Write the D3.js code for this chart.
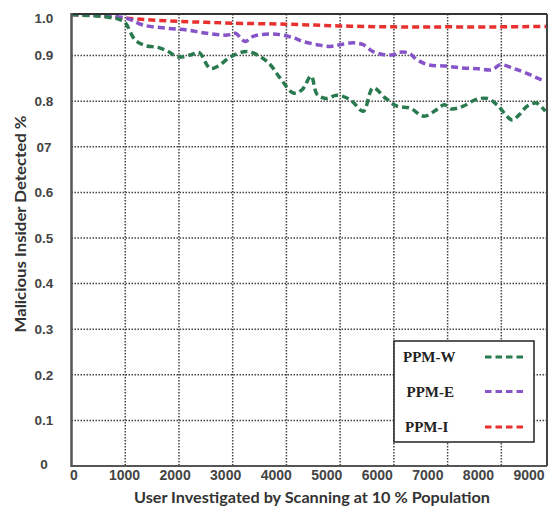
<!DOCTYPE html>
<html><head><meta charset="utf-8">
<script src="https://cdn.jsdelivr.net/npm/d3@7"></script>
<style>body{margin:0;background:#fff}svg{display:block}</style>
</head><body>
<svg id="c" width="549" height="508"></svg>
<script>
// ---- data ----
const seriesNames = ["PPM-W", "PPM-E", "PPM-I"];
const seriesColors = ["#2a7a50", "#8654c8", "#e8312f"];

const wX = [0,530,870,1000,1180,1370,1610,1800,1980,2230,2370,2580,2730,2970,3270,3510,3700,3880,4130,4290,4460,4570,4740,4940,5190,5430,5610,5840,6060,6300,6560,6790,6940,7070,7290,7510,7740,7920,8200,8330,8480,8650,8820];
const wY = [0.99,0.986,0.98,0.972,0.935,0.922,0.918,0.909,0.897,0.902,0.907,0.872,0.877,0.898,0.909,0.898,0.880,0.851,0.818,0.825,0.855,0.815,0.806,0.813,0.803,0.778,0.829,0.807,0.789,0.785,0.767,0.781,0.792,0.783,0.789,0.803,0.806,0.792,0.759,0.770,0.789,0.796,0.778];

const eX = [0,530,1030,1330,1780,2150,2520,2900,3050,3230,3380,3600,3880,4130,4310,4570,4810,5000,5240,5430,5610,5820,5990,6080,6270,6430,6640,6960,7270,7570,7830,7980,8200,8450,8760];
const eY = [0.99,0.988,0.982,0.967,0.960,0.956,0.949,0.945,0.949,0.931,0.942,0.947,0.946,0.939,0.931,0.924,0.920,0.924,0.928,0.924,0.909,0.902,0.902,0.907,0.906,0.891,0.880,0.877,0.873,0.871,0.869,0.880,0.873,0.862,0.846];

const iX = [0,500,1000,1500,2000,2500,3000,4000,5000,6000,7000,8000,8850];
const iY = [0.99,0.988,0.982,0.978,0.975,0.973,0.971,0.969,0.965,0.963,0.963,0.963,0.964];

const yTickVals = [0,0.1,0.2,0.3,0.4,0.5,0.6,0.7,0.8,0.9,1.0];
const yTickText = ["0","0.1","0.2","0.3","0.4","0.5","0.6","07","0.8","0.9","1.0"];
const xGridVals = [1000,2000,3000,4000,5000,6000,7000,8000];
const xTickVals = [0,1000,2000,3000,4000,5000,6000,7000,8000,9000];
const xTitle = "User Investigated by Scanning at 10 % Population";
const yTitle = "Malicious Insider Detected %";

// ---- layout ----
const L = 71.5, R = 547, T = 14, B = 466;
const svg = d3.select("#c");
const x = d3.scaleLinear().domain([0, 8850]).range([L, R]);
const y = d3.scaleLinear().domain([0, 1]).range([B, 10]);
const xLab = d3.scaleLinear().domain([0, 9000]).range([74, 529]);

// grid
const g = svg.append("g").attr("stroke", "#444").attr("stroke-width", 1.5).attr("stroke-dasharray", "1.5,1.5");
g.selectAll("line.h").data(yTickVals.filter(v => v > 0 && v < 1)).join("line")
  .attr("x1", L).attr("x2", R).attr("y1", d => y(d)).attr("y2", d => y(d));
g.selectAll("line.v").data(xGridVals).join("line")
  .attr("x1", d => x(d)).attr("x2", d => x(d)).attr("y1", T).attr("y2", B);

// clip
svg.append("clipPath").attr("id", "clip").append("rect")
  .attr("x", L).attr("y", T + 0.5).attr("width", R - L).attr("height", B - T);

const line = d3.line().x(d => x(d[0])).y(d => y(d[1])).curve(d3.curveCatmullRom.alpha(0.5));
const allSeries = [[wX, wY], [eX, eY], [iX, iY]];
const plot = svg.append("g").attr("clip-path", "url(#clip)");
// draw I, E, W order (W on top)
[2, 1, 0].forEach(i => {
  const pts = allSeries[i][0].map((v, k) => [v, allSeries[i][1][k]]);
  plot.append("path").attr("d", line(pts)).attr("fill", "none")
    .attr("stroke", seriesColors[i]).attr("stroke-width", 3.5)
    .attr("stroke-dasharray", "7,4");
});

// frame
svg.append("line").attr("x1", L).attr("x2", R).attr("y1", T).attr("y2", T).attr("stroke", "#333").attr("stroke-width", 2);
svg.append("line").attr("x1", R).attr("x2", R).attr("y1", T).attr("y2", B).attr("stroke", "#444").attr("stroke-width", 2);
svg.append("line").attr("x1", L).attr("x2", R).attr("y1", B).attr("y2", B).attr("stroke", "#555").attr("stroke-width", 2);
svg.append("line").attr("x1", L).attr("x2", L).attr("y1", T - 1).attr("y2", B + 1).attr("stroke", "#555").attr("stroke-width", 2.5);

// y tick labels
svg.append("g").selectAll("text").data(yTickVals).join("text")
  .attr("x", 44).attr("y", d => Math.max(y(d), 18) - (d === 0 ? 2 : 0))
  .attr("dy", "0.35em").attr("text-anchor", "middle")
  .attr("font-family", "Liberation Sans, Arial, sans-serif").attr("font-weight", "bold")
  .attr("font-size", 13.5).attr("fill", "#444")
  .text((d, i) => yTickText[i]);

// x tick labels
svg.append("g").selectAll("text").data(xTickVals).join("text")
  .attr("x", d => xLab(d)).attr("y", 480).attr("text-anchor", "middle")
  .attr("font-family", "Liberation Sans, Arial, sans-serif").attr("font-weight", "bold")
  .attr("font-size", 14).attr("fill", "#444")
  .text(d => String(d));

// titles
svg.append("text").attr("x", 312).attr("y", 503).attr("text-anchor", "middle")
  .attr("font-family", "Lato, sans-serif").attr("font-weight", "bold").attr("font-size", 15)
  .attr("fill", "#333").attr("textLength", 356).attr("lengthAdjust", "spacingAndGlyphs")
  .text(xTitle);
svg.append("text").attr("transform", "translate(26,224) rotate(-90)").attr("text-anchor", "middle")
  .attr("font-family", "Lato, sans-serif").attr("font-weight", "bold").attr("font-size", 14.5)
  .attr("fill", "#333").attr("textLength", 217).attr("lengthAdjust", "spacingAndGlyphs")
  .text(yTitle);

// legend
const lg = svg.append("g");
lg.append("rect").attr("x", 394).attr("y", 341).attr("width", 140).attr("height", 101)
  .attr("fill", "#fff").attr("stroke", "#222").attr("stroke-width", 1.5);
const legY = [357, 391.5, 427];
const legX = [403, 406.5, 405];
seriesNames.forEach((n, i) => {
  lg.append("text").attr("x", legX[i]).attr("y", legY[i] + 5)
    .attr("font-family", "Liberation Serif, Times New Roman, serif").attr("font-weight", "bold")
    .attr("font-size", 15).attr("fill", "#222").text(n);
  lg.append("line").attr("x1", 485).attr("x2", 525).attr("y1", legY[i]).attr("y2", legY[i])
    .attr("stroke", seriesColors[i]).attr("stroke-width", 2.8).attr("stroke-dasharray", "6.5,4");
});
</script>
</body></html>
